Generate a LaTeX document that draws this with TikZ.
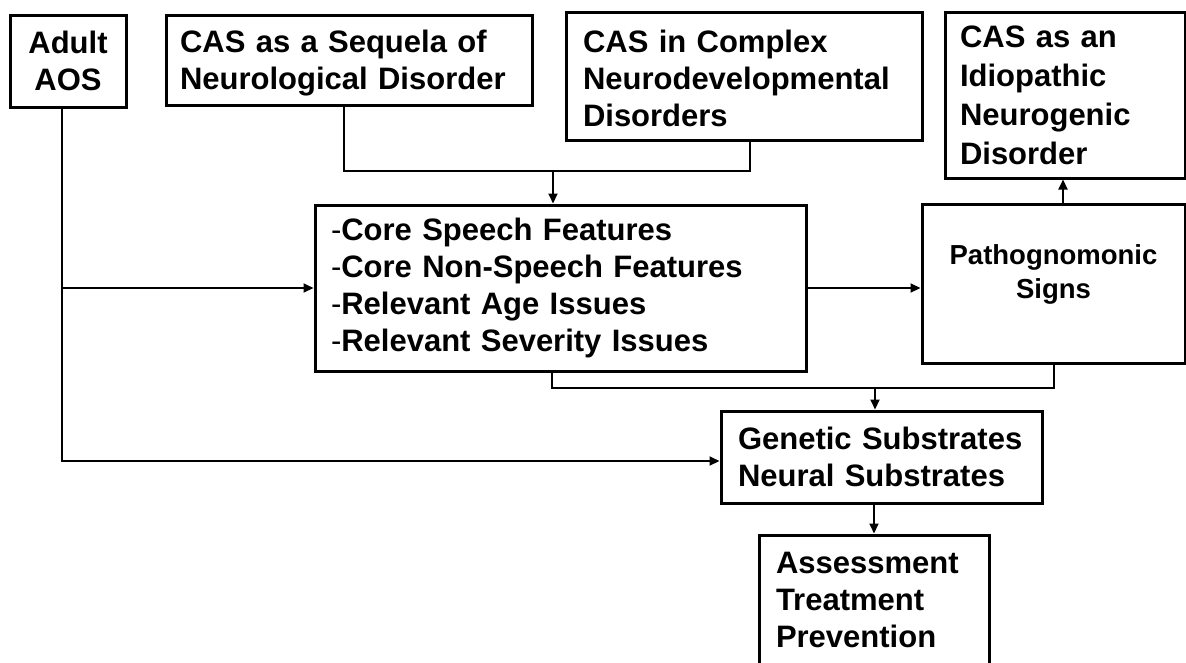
\documentclass[tikz,border=0pt]{standalone}
\usepackage{fontspec}
\setmainfont{Liberation Sans}
\usetikzlibrary{arrows.meta}
\tikzset{
  box/.style={draw, line width=3pt, inner sep=0pt, font=\fontsize{31}{37}\selectfont\bfseries},
  link/.style={line width=2pt},
  arr/.style={link, -{Triangle[length=10pt,width=9pt]}}
}
\newcommand\featdash{{\mdseries -}}

\begin{document}
\begin{tikzpicture}[x=1pt,y=-1pt]
  \clip (0,0) rectangle (1186,662);
  % boxes
  \node[box, minimum width=116pt, minimum height=92pt, align=center] (adult) at (68,61) {Adult\\AOS};
  \node[box, minimum width=366pt, minimum height=90pt, text width=338pt, text depth=37pt, align=left] (sequela) at (349,60)
    {CAS as a Sequela of\\Neurological Disorder};
  \node[box, minimum width=356pt, minimum height=128pt, text width=322pt, text height=27pt, align=left] (complex) at (744,76)
    {CAS in Complex\\Neurodevelopmental\\Disorders};
  \node[box, minimum width=240pt, minimum height=166pt, text width=210pt, align=left,
        font=\fontsize{31}{39}\selectfont\bfseries] (idio) at (1065,95)
    {CAS as an\\Idiopathic\\Neurogenic\\Disorder};
  \node[box, minimum width=491pt, minimum height=166pt, text width=459pt, align=left] (core) at (560.5,288)
    {\featdash Core Speech Features\\
     \featdash Core Non-Speech Features\\
     \featdash Relevant Age Issues\\
     \featdash Relevant Severity Issues};
  \node[box, minimum width=263pt, minimum height=159pt, text depth=24pt, align=center,
        font=\fontsize{27.5}{34}\selectfont\bfseries] (patho) at (1053.5,283.5)
    {Pathognomonic\\Signs};
  \node[box, minimum width=321pt, minimum height=92pt, text width=287pt, align=left] (gene) at (881.5,457)
    {Genetic Substrates\\Neural Substrates};
  \node[box, minimum width=230pt, minimum height=130pt, text width=196pt, align=left] (assess) at (874,600)
    {Assessment\\Treatment\\Prevention};
  \coordinate (topjoin) at (553,171);
  \coordinate (midjoin) at (875,388);
  % connectors
  \draw[link] ([xshift=-5pt]sequela.south) |- (topjoin) -| ([xshift=6pt]complex.south);
  \draw[arr] (topjoin) -- (topjoin |- core.north);
  \draw[arr] ([xshift=-6pt]adult.south) |- ([yshift=-4pt]gene.west);
  \draw[arr] ([xshift=-6pt]adult.south |- core.west) -- (core.west);
  \draw[arr] (core.east) -- (core.east -| patho.west);
  \draw[arr] ([xshift=9.5pt]patho.north) -- ([xshift=9.5pt]patho.north |- idio.south);
  \draw[link] ([xshift=-8.5pt]core.south) |- (midjoin) -| (patho.south);
  \draw[arr] (midjoin) -- (midjoin |- gene.north);
  \draw[arr] (assess.north |- gene.south) -- (assess.north);
\end{tikzpicture}
\end{document}
